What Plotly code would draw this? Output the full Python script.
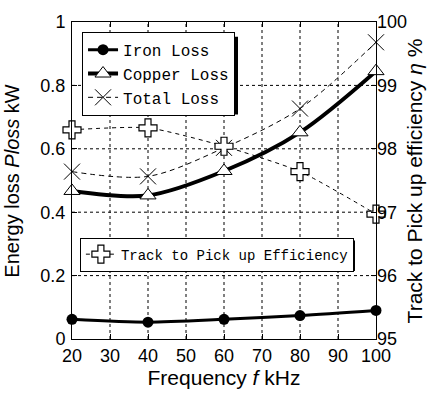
import plotly.graph_objects as go

freq = [20, 40, 60, 80, 100]
iron_loss = [0.062, 0.053, 0.062, 0.074, 0.090]
copper_loss = [0.467, 0.453, 0.530, 0.652, 0.845]
total_loss = [0.528, 0.513, 0.603, 0.727, 0.936]
efficiency = [98.30, 98.33, 98.04, 97.64, 96.97]

x_ticks = [20, 30, 40, 50, 60, 70, 80, 90, 100]
y_ticks = [0, 0.2, 0.4, 0.6, 0.8, 1.0]

fig = go.Figure()
fig.add_trace(go.Scatter(
    x=freq, y=iron_loss, name="Iron Loss", mode="lines+markers",
    line=dict(color="black", width=3, shape="spline", smoothing=0.8),
    marker=dict(symbol="circle", size=11, color="black"),
    cliponaxis=False, legend="legend"))
fig.add_trace(go.Scatter(
    x=freq, y=copper_loss, name="Copper Loss", mode="lines+markers",
    line=dict(color="black", width=4, shape="spline", smoothing=0.9),
    marker=dict(symbol="triangle-up", size=14, color="white",
                line=dict(color="black", width=1)),
    cliponaxis=False, legend="legend"))
fig.add_trace(go.Scatter(
    x=freq, y=total_loss, name="Total Loss", mode="lines+markers",
    line=dict(color="black", width=1, dash="5px,4px", shape="spline", smoothing=0.9),
    marker=dict(symbol="x-thin-open", size=16, color="black",
                line=dict(color="black", width=1)),
    cliponaxis=False, legend="legend"))
fig.add_trace(go.Scatter(
    x=freq, y=efficiency, name="Track to Pick up Efficiency", mode="lines+markers",
    yaxis="y2",
    line=dict(color="black", width=1, dash="4px,4px", shape="spline", smoothing=0.6),
    marker=dict(symbol="cross", size=15, color="white",
                line=dict(color="black", width=1.2)),
    cliponaxis=False, legend="legend2"))

def px_x(p):
    return (p - 72) / 304

def px_y(p):
    return (342 - p) / 322

grid_shapes = []
for xv in x_ticks[1:-1]:
    grid_shapes.append(dict(type="line", xref="x", yref="paper", layer="below",
                            x0=xv, x1=xv, y0=0, y1=1,
                            line=dict(color="black", width=1, dash="dot")))
for yv in y_ticks[1:-1]:
    grid_shapes.append(dict(type="line", xref="paper", yref="y", layer="below",
                            x0=0, x1=1, y0=yv, y1=yv,
                            line=dict(color="black", width=1, dash="dot")))

shadow_shapes = [
    dict(type="rect", xref="paper", yref="paper", layer="above",
         x0=px_x(86), x1=px_x(238), y0=px_y(35), y1=px_y(114),
         fillcolor="black", line=dict(width=0)),
    dict(type="rect", xref="paper", yref="paper", layer="above",
         x0=px_x(84), x1=px_x(355), y0=px_y(242), y1=px_y(273),
         fillcolor="black", line=dict(width=0)),
]

axis_font = dict(family="Liberation Sans, Arial", size=18, color="black")
fig.update_layout(
    width=428, height=393,
    margin=dict(l=72, r=52, t=20, b=51),
    paper_bgcolor="white", plot_bgcolor="rgba(0,0,0,0)",
    font=axis_font,
    xaxis=dict(range=[20, 100], tickvals=x_ticks,
               showgrid=False,
               showline=True, linecolor="black", linewidth=1, mirror="ticks",
               ticks="inside", ticklen=5, tickcolor="black", tickwidth=1,
               tickfont=axis_font, zeroline=False,
               title=dict(text="Frequency <i>f</i> kHz",
                          font=dict(family="Liberation Sans, Arial", size=21),
                          standoff=1)),
    yaxis=dict(range=[0, 1], tickvals=y_ticks,
               ticktext=["0", "0.2", "0.4", "0.6", "0.8", "1"],
               showgrid=False,
               showline=True, linecolor="black", linewidth=1, mirror="ticks",
               ticks="inside", ticklen=5, tickcolor="black", tickwidth=1,
               tickfont=axis_font, zeroline=False, ticklabelstandoff=2),
    yaxis2=dict(range=[95, 100], dtick=1, overlaying="y", side="right",
                showgrid=False, showline=False, ticks="",
                tickfont=axis_font, zeroline=False),
    legend=dict(x=0.033, y=0.969, xanchor="left", yanchor="top",
                bgcolor="white", bordercolor="black", borderwidth=1,
                font=dict(family="Liberation Mono", size=16, color="black"),
                tracegroupgap=0, itemwidth=30),
    legend2=dict(x=0.026, y=0.32, xanchor="left", yanchor="top",
                 bgcolor="white", bordercolor="black", borderwidth=1,
                 font=dict(family="Liberation Mono", size=14, color="black"),
                 itemwidth=30),
    shapes=grid_shapes + shadow_shapes,
    annotations=[
        dict(text="Energy loss <i>Ploss</i> kW", xref="paper", yref="paper",
             x=-0.2, y=0.5, xanchor="center", yanchor="middle",
             textangle=-90, showarrow=False,
             font=dict(family="Liberation Sans, Arial", size=20)),
        dict(text="Track to Pick up efficiency <i>η</i> %", xref="paper", yref="paper",
             x=1.128, y=0.5, xanchor="center", yanchor="middle",
             textangle=-90, showarrow=False,
             font=dict(family="Liberation Sans, Arial", size=21)),
    ],
)
fig.write_html("out.html")
